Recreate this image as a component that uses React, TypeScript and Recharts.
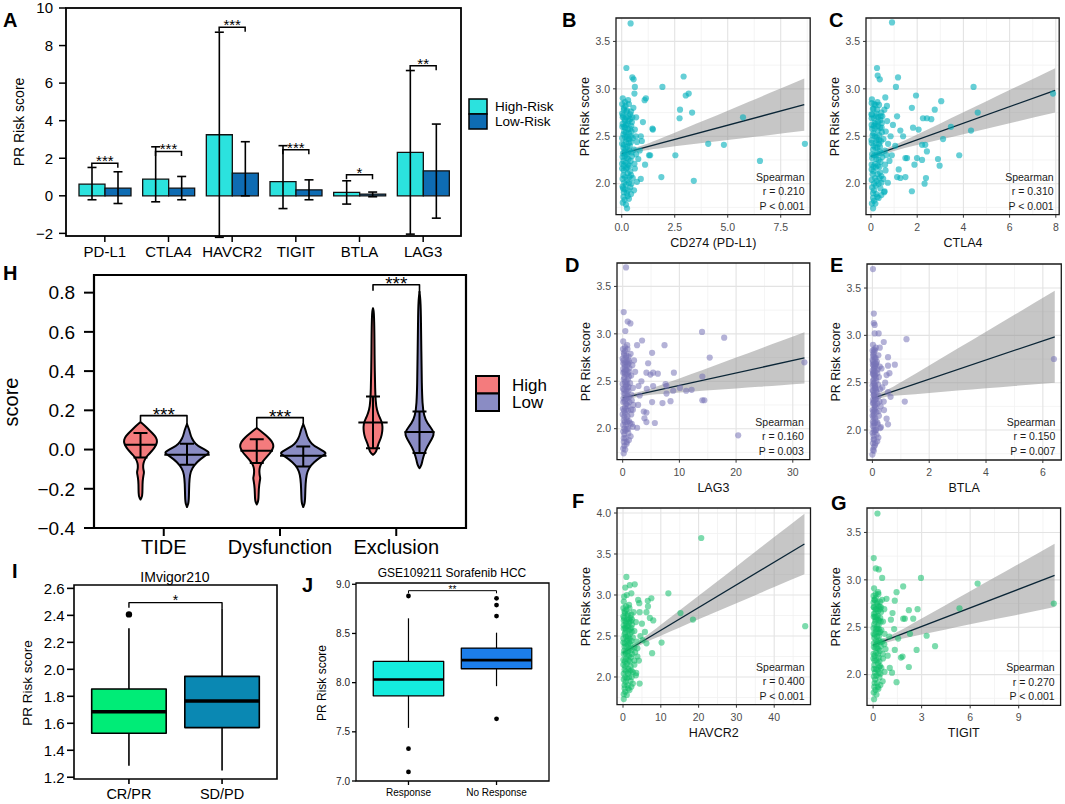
import React from 'react';
import {
  ComposedChart,
  Bar,
  XAxis,
  YAxis,
  ErrorBar,
  Scatter,
  Area,
  Line,
  CartesianGrid,
  ReferenceArea,
} from 'recharts';

const FONT = '"Liberation Sans", Arial, Helvetica, sans-serif';
const MINUS = '\u2212';
const signed = (digits: number) => (v: number) => (v < 0 ? MINUS : '') + Math.abs(v).toFixed(digits);

/* ---------------- Panel A : checkpoint expression ---------------- */
const checkpointGenes = ['PD-L1', 'CTLA4', 'HAVCR2', 'TIGIT', 'BTLA', 'LAG3'];
const highRiskMean = [0.62, 0.89, 3.25, 0.75, 0.18, 2.31];
const highRiskLower = [-0.21, -0.32, -2.21, -0.68, -0.44, -2.04];
const highRiskUpper = [1.51, 2.61, 8.71, 2.67, 0.8, 6.67];
const lowRiskMean = [0.41, 0.41, 1.21, 0.32, 0.09, 1.33];
const lowRiskLower = [-0.41, -0.21, 0.0, -0.21, -0.05, -1.19];
const lowRiskUpper = [1.28, 1.03, 2.88, 0.85, 0.2, 3.82];
const checkpointSigY = [1.74, 2.36, 8.98, 2.45, 1.12, 6.92];
const checkpointSig = ['***', '***', '***', '***', '*', '**'];
const aTicks = [-2, 0, 2, 4, 6, 8, 10];

/* ---------------- Panel H : TIDE violins ---------------- */
const tideGroups = ['TIDE', 'Dysfunction', 'Exclusion'];
const hTicks = [-0.4, -0.2, 0, 0.2, 0.4, 0.6, 0.8];
const tideHighProfile = [[-0.255, 0], [-0.24, 0.015], [-0.2, 0.017], [-0.16, 0.018], [-0.13, 0.026], [-0.115, 0.031], [-0.1, 0.024], [-0.08, 0.022], [-0.06, 0.03], [-0.04, 0.047], [-0.02, 0.078], [0.0, 0.108], [0.02, 0.132], [0.04, 0.144], [0.06, 0.136], [0.08, 0.11], [0.1, 0.074], [0.12, 0.04], [0.14, 0]];
const tideLowProfile = [[-0.293, 0], [-0.27, 0.015], [-0.2, 0.018], [-0.15, 0.021], [-0.11, 0.032], [-0.08, 0.062], [-0.05, 0.112], [-0.03, 0.162], [-0.015, 0.195], [0.0, 0.152], [0.02, 0.092], [0.04, 0.057], [0.07, 0.032], [0.1, 0.02], [0.13, 0]];
const dysHighProfile = [[-0.28, 0], [-0.26, 0.015], [-0.2, 0.017], [-0.16, 0.026], [-0.145, 0.031], [-0.13, 0.024], [-0.1, 0.022], [-0.08, 0.032], [-0.06, 0.052], [-0.04, 0.082], [-0.02, 0.112], [0.0, 0.136], [0.02, 0.145], [0.04, 0.132], [0.06, 0.102], [0.08, 0.064], [0.095, 0.034], [0.11, 0]];
const dysLowProfile = [[-0.293, 0], [-0.27, 0.015], [-0.2, 0.018], [-0.15, 0.023], [-0.11, 0.036], [-0.08, 0.066], [-0.05, 0.122], [-0.03, 0.172], [-0.018, 0.2], [0.0, 0.152], [0.02, 0.092], [0.04, 0.057], [0.07, 0.032], [0.1, 0.02], [0.13, 0]];
const exclHighProfile = [[-0.027, 0], [-0.015, 0.022], [0.0, 0.032], [0.03, 0.047], [0.06, 0.069], [0.09, 0.08], [0.117, 0.082], [0.14, 0.076], [0.16, 0.06], [0.185, 0.042], [0.22, 0.027], [0.28, 0.02], [0.35, 0.017], [0.45, 0.014], [0.6, 0.012], [0.7, 0.008], [0.72, 0]];
const exclLowProfile = [[-0.095, 0], [-0.08, 0.017], [-0.05, 0.027], [-0.02, 0.042], [0.01, 0.062], [0.04, 0.092], [0.065, 0.116], [0.083, 0.123], [0.1, 0.111], [0.12, 0.087], [0.15, 0.052], [0.2, 0.03], [0.28, 0.022], [0.4, 0.018], [0.6, 0.014], [0.75, 0.01], [0.805, 0]];
const hHighMean = [0.024, -0.006, 0.138];
const hHighLo = [-0.04, -0.069, 0.007];
const hHighHi = [0.084, 0.053, 0.27];
const hHighBar = [0.137, 0.14, 0.126];
const hLowMean = [-0.027, -0.032, 0.089];
const hLowLo = [-0.078, -0.086, -0.018];
const hLowHi = [0.03, 0.016, 0.194];
const hLowBar = [0.195, 0.2, 0.13];
const hSigY = [0.173, 0.163, 0.84];
const hSigLeft = [0.143, 0.11, 0.81];
const hSigRight = [0.13, 0.13, 0.8];

/* ---------------- Panel I : IMvigor210 ---------------- */
const imGroups = ['CR/PR', 'SD/PD'];
const imQ1 = [1.526, 1.568];
const imMed = [1.686, 1.765];
const imQ3 = [1.854, 1.948];
const imLo = [1.286, 1.25];
const imHi = [2.304, 2.452];
const imOutliers = [[1, 2.407]];
const imTicks = [1.2, 1.4, 1.6, 1.8, 2.0, 2.2, 2.4, 2.6];

/* ---------------- Panel J : GSE109211 ---------------- */
const gseGroups = ['Response', 'No Response'];
const gseQ1 = [7.866, 8.141];
const gseMed = [8.032, 8.229];
const gseQ3 = [8.216, 8.351];
const gseLo = [7.54, 7.964];
const gseHi = [8.654, 8.508];
const gseOutliers = [[1, 8.881], [1, 7.329], [1, 7.092], [2, 8.857], [2, 8.789], [2, 8.677], [2, 7.632]];
const gseTicks = [7.0, 7.5, 8.0, 8.5, 9.0];

/* ---------------- Panels B-G : correlation scatter ---------------- */
const ptsB = [[0.42, 3.69], [0.22, 3.22], [0.5, 3.12], [0.56, 3.1], [0.62, 3.02], [0.6, 2.95], [1.08, 2.88], [1.92, 3.02], [2.92, 3.13], [3.02, 2.93], [3.16, 2.95], [2.75, 2.78], [2.73, 2.69], [3.32, 2.75], [1.45, 2.58], [1.47, 2.57], [1.29, 2.3], [2.53, 2.3], [1.87, 2.07], [3.4, 2.03], [4.08, 2.42], [4.82, 2.41], [5.72, 2.7], [6.52, 2.24], [8.64, 2.42], [0.25, 1.74], [1.0, 2.65], [0.95, 2.45], [1.1, 2.2], [0.9, 2.05], [1.14, 2.9], [1.34, 2.3], [0.85, 2.35], [0.9, 2.5]];
const denseB = [[0.05, 2.9], [0.15, 2.86], [0.3, 2.88], [0.1, 2.8], [0.22, 2.76], [0.4, 2.73], [0.55, 2.8], [0.68, 2.7], [0.05, 2.7], [0.15, 2.66], [0.28, 2.63], [0.45, 2.61], [0.62, 2.57], [0.03, 2.6], [0.12, 2.55], [0.35, 2.53], [0.52, 2.48], [0.72, 2.44], [0.02, 2.48], [0.2, 2.44], [0.38, 2.4], [0.58, 2.36], [0.08, 2.38], [0.28, 2.33], [0.48, 2.29], [0.78, 2.26], [0.04, 2.28], [0.18, 2.22], [0.36, 2.19], [0.62, 2.16], [0.1, 2.14], [0.28, 2.11], [0.52, 2.06], [0.72, 2.02], [0.04, 2.05], [0.2, 1.99], [0.4, 1.96], [0.58, 1.93], [0.1, 1.91], [0.28, 1.87], [0.14, 1.83], [0.05, 1.8], [0.34, 2.01], [0.44, 2.09], [0.24, 2.47], [0.48, 2.65], [0.32, 2.71], [0.68, 2.31], [0.16, 2.59], [0.02, 2.74], [0.34, 2.43], [0.24, 2.27], [0.6, 2.21], [0.12, 2.01], [0.44, 1.89], [0.02, 2.16], [0.2, 2.54], [0.42, 2.5], [0.08, 2.24], [0.26, 2.17], [0.66, 2.5], [0.14, 2.34], [0.06, 1.95], [0.3, 1.93]];
const denseB2 = [[0.02, 2.84], [0.1, 2.78], [0.18, 2.82], [0.26, 2.77], [0.34, 2.84], [0.44, 2.76], [0.06, 2.72], [0.14, 2.68], [0.22, 2.7], [0.32, 2.66], [0.4, 2.68], [0.5, 2.7], [0.04, 2.63], [0.12, 2.6], [0.2, 2.62], [0.3, 2.57], [0.38, 2.58], [0.46, 2.55], [0.08, 2.52], [0.16, 2.49], [0.26, 2.5], [0.34, 2.47], [0.44, 2.44], [0.02, 2.42], [0.1, 2.41], [0.18, 2.37], [0.26, 2.39], [0.36, 2.35], [0.46, 2.33], [0.06, 2.32], [0.14, 2.29], [0.22, 2.31], [0.32, 2.26], [0.42, 2.24], [0.02, 2.21], [0.1, 2.19], [0.2, 2.16], [0.3, 2.2], [0.4, 2.13], [0.08, 2.09], [0.16, 2.07], [0.26, 2.04], [0.36, 2.07], [0.46, 2.0], [0.04, 1.97], [0.14, 1.94], [0.24, 1.9], [0.34, 1.84], [0.08, 1.86], [0.2, 1.78]];
const ptsC = [[0.91, 3.7], [0.26, 3.22], [0.29, 3.14], [0.38, 3.1], [1.17, 3.12], [1.08, 3.02], [1.95, 2.93], [1.77, 2.8], [3.04, 2.87], [2.76, 2.78], [4.44, 3.02], [4.62, 2.75], [7.88, 2.95], [2.25, 2.69], [2.42, 2.69], [2.61, 2.68], [3.46, 2.6], [4.33, 2.56], [1.82, 2.59], [2.06, 2.57], [3.12, 2.47], [2.21, 2.41], [2.35, 2.41], [2.42, 2.34], [3.82, 2.3], [2.9, 2.26], [2.97, 2.19], [1.99, 2.27], [2.21, 2.25], [1.49, 2.27], [1.56, 2.27], [1.88, 2.2], [2.38, 2.06], [2.32, 2.0], [1.49, 2.07], [1.27, 2.06], [1.13, 2.07], [1.77, 1.92], [0.59, 1.92], [0.09, 1.74], [1.27, 2.56], [1.39, 2.5], [0.62, 2.91], [0.69, 2.82], [1.13, 2.71], [0.95, 2.62], [1.05, 2.4], [0.9, 2.3], [1.2, 2.15], [0.85, 2.5]];
const denseC = [[0.04, 2.89], [0.14, 2.84], [0.28, 2.86], [0.08, 2.79], [0.24, 2.74], [0.42, 2.71], [0.58, 2.78], [0.7, 2.66], [0.03, 2.69], [0.16, 2.64], [0.3, 2.61], [0.46, 2.59], [0.64, 2.55], [0.05, 2.58], [0.11, 2.53], [0.36, 2.51], [0.54, 2.47], [0.74, 2.42], [0.02, 2.46], [0.21, 2.43], [0.39, 2.39], [0.6, 2.35], [0.09, 2.36], [0.27, 2.32], [0.49, 2.28], [0.8, 2.24], [0.05, 2.27], [0.17, 2.21], [0.37, 2.18], [0.63, 2.14], [0.11, 2.13], [0.29, 2.1], [0.53, 2.05], [0.73, 2.01], [0.03, 2.04], [0.21, 1.98], [0.41, 1.95], [0.57, 1.91], [0.09, 1.9], [0.27, 1.86], [0.13, 1.82], [0.04, 1.79], [0.33, 2.0], [0.45, 2.08], [0.25, 2.46], [0.47, 2.64], [0.31, 2.7], [0.67, 2.3], [0.15, 2.58], [0.02, 2.73], [0.35, 2.42], [0.23, 2.26], [0.61, 2.2], [0.13, 2.0], [0.45, 1.88], [0.03, 2.15]];
const denseC2 = [[0.03, 2.85], [0.11, 2.79], [0.19, 2.83], [0.27, 2.78], [0.35, 2.83], [0.45, 2.75], [0.05, 2.73], [0.13, 2.69], [0.23, 2.71], [0.31, 2.65], [0.41, 2.67], [0.49, 2.71], [0.03, 2.62], [0.13, 2.61], [0.21, 2.63], [0.29, 2.56], [0.39, 2.59], [0.47, 2.54], [0.07, 2.51], [0.17, 2.5], [0.25, 2.49], [0.35, 2.46], [0.43, 2.45], [0.03, 2.43], [0.11, 2.4], [0.19, 2.38], [0.27, 2.38], [0.37, 2.34], [0.45, 2.32], [0.05, 2.31], [0.15, 2.3], [0.23, 2.3], [0.33, 2.25], [0.41, 2.23], [0.03, 2.2], [0.11, 2.18], [0.21, 2.17], [0.29, 2.19], [0.39, 2.12], [0.07, 2.1], [0.17, 2.06], [0.25, 2.03], [0.37, 2.06], [0.45, 2.01], [0.05, 1.96], [0.13, 1.93], [0.23, 1.89], [0.33, 1.85], [0.09, 1.85], [0.19, 1.79]];
const ptsD = [[0.59, 3.7], [0.18, 3.23], [0.89, 3.13], [1.36, 3.11], [0.47, 3.03], [2.54, 2.88], [3.42, 2.93], [5.19, 2.8], [7.38, 2.88], [14.0, 3.02], [17.9, 2.96], [15.35, 2.75], [32.05, 2.7], [4.49, 2.69], [4.19, 2.59], [4.9, 2.57], [5.37, 2.59], [6.2, 2.58], [9.03, 2.59], [7.56, 2.47], [7.73, 2.45], [5.37, 2.45], [4.25, 2.42], [14.05, 2.55], [8.91, 2.4], [10.1, 2.43], [11.2, 2.4], [12.16, 2.41], [7.73, 2.37], [14.05, 2.3], [14.4, 2.3], [7.02, 2.27], [8.44, 2.29], [5.19, 2.28], [3.72, 2.18], [4.19, 2.17], [3.84, 2.11], [4.19, 2.07], [5.67, 2.06], [2.54, 2.01], [2.72, 2.25], [20.37, 1.93], [0.18, 1.74], [2.2, 2.6], [2.8, 2.45], [1.8, 2.2], [3.0, 2.35], [2.0, 2.72], [1.6, 2.05], [3.3, 2.5]];
const denseD = [[0.1, 2.92], [0.4, 2.86], [0.8, 2.88], [0.2, 2.8], [0.6, 2.75], [1.0, 2.72], [1.4, 2.79], [1.7, 2.67], [0.1, 2.69], [0.4, 2.65], [0.7, 2.62], [1.1, 2.6], [1.5, 2.56], [0.1, 2.59], [0.3, 2.54], [0.9, 2.52], [1.3, 2.48], [1.8, 2.43], [0.0, 2.47], [0.5, 2.44], [1.0, 2.4], [1.5, 2.36], [0.2, 2.37], [0.7, 2.32], [1.2, 2.28], [1.9, 2.25], [0.1, 2.28], [0.4, 2.22], [0.9, 2.19], [1.5, 2.15], [0.3, 2.13], [0.7, 2.1], [1.3, 2.06], [1.8, 2.02], [0.1, 2.04], [0.5, 1.98], [1.0, 1.95], [1.4, 1.92], [0.2, 1.9], [0.7, 1.86], [0.3, 1.82], [0.1, 1.79], [0.8, 2.0], [1.1, 2.08], [0.6, 2.46], [1.2, 2.64], [0.8, 2.7], [1.6, 2.3], [0.4, 2.58], [0.0, 2.74], [0.8, 2.42], [0.6, 2.26], [1.5, 2.2], [0.3, 2.0], [1.1, 1.88], [0.0, 2.15]];
const denseD2 = [[0.05, 2.84], [0.25, 2.78], [0.45, 2.82], [0.65, 2.77], [0.85, 2.84], [1.05, 2.76], [0.15, 2.72], [0.35, 2.68], [0.55, 2.7], [0.75, 2.66], [0.95, 2.68], [1.15, 2.7], [0.1, 2.63], [0.3, 2.6], [0.5, 2.62], [0.7, 2.57], [0.9, 2.58], [1.1, 2.55], [0.2, 2.52], [0.4, 2.49], [0.6, 2.5], [0.8, 2.47], [1.0, 2.44], [0.05, 2.42], [0.25, 2.41], [0.45, 2.37], [0.65, 2.39], [0.85, 2.35], [1.05, 2.33], [0.15, 2.32], [0.35, 2.29], [0.55, 2.31], [0.75, 2.26], [0.95, 2.24], [0.05, 2.21], [0.25, 2.19], [0.45, 2.16], [0.65, 2.2], [0.85, 2.13], [0.2, 2.09], [0.4, 2.07], [0.6, 2.04], [0.8, 2.07], [1.0, 2.0], [0.1, 1.97], [0.3, 1.94], [0.5, 1.9], [0.7, 1.84], [0.2, 1.86], [0.45, 1.78]];
const ptsE = [[0.02, 3.7], [0.05, 3.23], [0.05, 3.13], [0.08, 3.11], [0.08, 3.02], [0.22, 3.02], [0.4, 2.93], [0.26, 2.87], [1.2, 2.96], [0.55, 2.77], [0.79, 2.69], [0.55, 2.68], [0.5, 2.58], [0.6, 2.6], [1.14, 2.3], [6.39, 2.75], [0.64, 2.35], [0.55, 2.4], [0.41, 2.21], [0.55, 2.06], [0.3, 2.03], [0.0, 1.74], [0.45, 2.5], [0.35, 2.45], [0.4, 2.3], [0.32, 2.65], [0.5, 2.12]];
const denseE = [[0.02, 2.9], [0.06, 2.85], [0.12, 2.87], [0.03, 2.8], [0.09, 2.75], [0.16, 2.72], [0.21, 2.79], [0.26, 2.67], [0.02, 2.69], [0.06, 2.65], [0.11, 2.62], [0.17, 2.6], [0.23, 2.56], [0.02, 2.59], [0.05, 2.54], [0.14, 2.52], [0.2, 2.48], [0.27, 2.43], [0.01, 2.47], [0.08, 2.44], [0.15, 2.4], [0.22, 2.36], [0.04, 2.37], [0.11, 2.32], [0.18, 2.28], [0.29, 2.25], [0.02, 2.28], [0.07, 2.22], [0.14, 2.19], [0.23, 2.15], [0.04, 2.13], [0.11, 2.1], [0.19, 2.06], [0.27, 2.02], [0.02, 2.04], [0.08, 1.98], [0.15, 1.95], [0.21, 1.92], [0.04, 1.9], [0.11, 1.86], [0.05, 1.82], [0.02, 1.79], [0.12, 2.0], [0.17, 2.08], [0.09, 2.46], [0.18, 2.64], [0.12, 2.7], [0.25, 2.3], [0.06, 2.58], [0.01, 2.74], [0.13, 2.42], [0.09, 2.26], [0.22, 2.2], [0.05, 2.0], [0.17, 1.88], [0.01, 2.15]];
const denseE2 = [[0.01, 2.84], [0.03, 2.78], [0.05, 2.82], [0.07, 2.77], [0.09, 2.84], [0.12, 2.76], [0.02, 2.72], [0.04, 2.68], [0.06, 2.7], [0.08, 2.66], [0.1, 2.68], [0.13, 2.7], [0.01, 2.63], [0.03, 2.6], [0.05, 2.62], [0.08, 2.57], [0.1, 2.58], [0.12, 2.55], [0.02, 2.52], [0.04, 2.49], [0.07, 2.5], [0.09, 2.47], [0.11, 2.44], [0.01, 2.42], [0.03, 2.41], [0.05, 2.37], [0.07, 2.39], [0.09, 2.35], [0.12, 2.33], [0.02, 2.32], [0.04, 2.29], [0.06, 2.31], [0.08, 2.26], [0.11, 2.24], [0.01, 2.21], [0.03, 2.19], [0.05, 2.16], [0.08, 2.2], [0.1, 2.13], [0.02, 2.09], [0.04, 2.07], [0.07, 2.04], [0.09, 2.07], [0.12, 2.0], [0.01, 1.97], [0.04, 1.94], [0.06, 1.9], [0.09, 1.84], [0.02, 1.86], [0.05, 1.78]];
const ptsF = [[20.7, 3.695], [0.9, 3.22], [0.6, 3.09], [1.8, 3.12], [3.1, 3.13], [2.2, 3.02], [12.0, 3.02], [4.0, 2.94], [6.55, 2.93], [7.5, 2.96], [4.3, 2.9], [6.6, 2.86], [6.2, 2.79], [4.4, 2.79], [7.1, 2.72], [8.0, 2.69], [15.2, 2.78], [18.5, 2.7], [48.2, 2.62], [5.8, 2.55], [10.2, 2.42], [6.2, 2.41], [7.7, 2.29], [4.4, 1.92], [0.2, 1.73], [5.0, 2.65], [4.6, 2.5], [3.8, 2.35], [4.2, 2.2], [3.5, 2.05], [5.2, 2.45]];
const denseF = [[0.2, 2.92], [0.8, 2.86], [1.6, 2.88], [0.4, 2.8], [1.2, 2.75], [2.0, 2.72], [2.8, 2.79], [3.4, 2.67], [0.2, 2.69], [0.8, 2.65], [1.4, 2.62], [2.2, 2.6], [3.0, 2.56], [0.2, 2.59], [0.6, 2.54], [1.8, 2.52], [2.6, 2.48], [3.6, 2.43], [0.1, 2.47], [1.0, 2.44], [2.0, 2.4], [3.0, 2.36], [0.4, 2.37], [1.4, 2.32], [2.4, 2.28], [3.8, 2.25], [0.2, 2.28], [0.8, 2.22], [1.8, 2.19], [3.0, 2.15], [0.6, 2.13], [1.4, 2.1], [2.6, 2.06], [3.4, 2.02], [0.2, 2.04], [1.0, 1.98], [2.0, 1.95], [2.6, 1.92], [0.4, 1.9], [1.4, 1.86], [0.6, 1.82], [0.2, 1.79], [1.6, 2.0], [2.2, 2.08], [1.2, 2.46], [2.4, 2.64], [1.6, 2.7], [3.2, 2.3], [0.8, 2.58], [0.1, 2.74], [1.6, 2.42], [1.2, 2.26], [3.0, 2.2], [0.6, 2.0], [2.2, 1.88], [0.1, 2.15], [0.3, 2.98], [1.0, 3.0]];
const denseF2 = [[0.1, 2.84], [0.5, 2.78], [0.9, 2.82], [1.3, 2.77], [1.7, 2.84], [2.2, 2.76], [0.3, 2.72], [0.7, 2.68], [1.1, 2.7], [1.6, 2.66], [2.0, 2.68], [2.4, 2.7], [0.2, 2.63], [0.6, 2.6], [1.0, 2.62], [1.5, 2.57], [1.9, 2.58], [2.3, 2.55], [0.4, 2.52], [0.8, 2.49], [1.3, 2.5], [1.7, 2.47], [2.2, 2.44], [0.1, 2.42], [0.5, 2.41], [0.9, 2.37], [1.3, 2.39], [1.8, 2.35], [2.3, 2.33], [0.3, 2.32], [0.7, 2.29], [1.1, 2.31], [1.6, 2.26], [2.1, 2.24], [0.1, 2.21], [0.5, 2.19], [1.0, 2.16], [1.5, 2.2], [2.0, 2.13], [0.4, 2.09], [0.8, 2.07], [1.3, 2.04], [1.8, 2.07], [2.3, 2.0], [0.2, 1.97], [0.7, 1.94], [1.2, 1.9], [1.7, 1.84], [0.4, 1.86], [1.0, 1.78]];
const ptsG = [[0.27, 3.7], [0.04, 3.23], [0.17, 3.12], [0.35, 3.11], [0.56, 3.02], [2.96, 3.02], [1.86, 2.93], [1.45, 2.87], [6.46, 2.96], [0.83, 2.8], [1.34, 2.78], [2.21, 2.68], [2.75, 2.69], [1.86, 2.59], [1.96, 2.59], [2.48, 2.59], [5.34, 2.7], [1.1, 2.58], [1.3, 2.48], [2.28, 2.43], [3.31, 2.41], [1.55, 2.38], [3.83, 2.3], [2.69, 2.26], [1.34, 2.26], [1.82, 2.19], [1.72, 2.18], [2.21, 2.08], [1.03, 2.07], [1.17, 2.02], [1.45, 1.92], [11.17, 2.75], [0.06, 1.74], [1.0, 2.4], [0.9, 2.2], [1.2, 2.65]];
const denseG = [[0.06, 2.91], [0.16, 2.85], [0.31, 2.87], [0.09, 2.79], [0.23, 2.75], [0.41, 2.72], [0.56, 2.79], [0.69, 2.69], [0.04, 2.71], [0.14, 2.65], [0.29, 2.62], [0.44, 2.6], [0.61, 2.56], [0.04, 2.61], [0.13, 2.56], [0.34, 2.52], [0.51, 2.47], [0.71, 2.43], [0.03, 2.49], [0.19, 2.45], [0.37, 2.41], [0.57, 2.35], [0.07, 2.39], [0.27, 2.34], [0.47, 2.3], [0.77, 2.27], [0.05, 2.29], [0.19, 2.23], [0.35, 2.18], [0.61, 2.17], [0.09, 2.15], [0.29, 2.12], [0.51, 2.07], [0.71, 2.03], [0.05, 2.06], [0.21, 1.99], [0.39, 1.97], [0.59, 1.93], [0.09, 1.91], [0.29, 1.87], [0.15, 1.84], [0.04, 1.81], [0.35, 2.02], [0.43, 2.09], [0.25, 2.48], [0.49, 2.66], [0.33, 2.72], [0.69, 2.32], [0.17, 2.58], [0.03, 2.76], [0.35, 2.44], [0.25, 2.28], [0.59, 2.22], [0.11, 2.02], [0.45, 1.89], [0.02, 2.17]];
const denseG2 = [[0.03, 2.83], [0.09, 2.79], [0.17, 2.81], [0.27, 2.76], [0.33, 2.85], [0.43, 2.77], [0.05, 2.71], [0.15, 2.69], [0.21, 2.69], [0.31, 2.67], [0.41, 2.69], [0.49, 2.71], [0.05, 2.64], [0.11, 2.61], [0.21, 2.61], [0.29, 2.58], [0.37, 2.57], [0.47, 2.56], [0.07, 2.53], [0.17, 2.48], [0.25, 2.51], [0.35, 2.48], [0.43, 2.45], [0.03, 2.43], [0.09, 2.42], [0.19, 2.36], [0.25, 2.4], [0.37, 2.36], [0.45, 2.34], [0.05, 2.33], [0.15, 2.28], [0.21, 2.32], [0.33, 2.27], [0.41, 2.25], [0.03, 2.22], [0.09, 2.2], [0.21, 2.15], [0.29, 2.21], [0.39, 2.14], [0.07, 2.1], [0.17, 2.06], [0.25, 2.05], [0.37, 2.08], [0.45, 2.01], [0.05, 1.98], [0.13, 1.95], [0.25, 1.91], [0.33, 1.85], [0.07, 1.87], [0.21, 1.79]];

// regression fit end points and 95% band (x, lower, upper)
const fitB = [[0, 2.316], [8.61, 2.833]];
const bandB = [[0, 2.286, 2.346], [1, 2.346, 2.406], [2, 2.379, 2.493], [3, 2.407, 2.585], [4, 2.435, 2.677], [5, 2.461, 2.77], [6, 2.488, 2.864], [7, 2.514, 2.958], [8.61, 2.557, 3.109]];
const fitC = [[0, 2.288], [7.97, 2.984]];
const bandC = [[0, 2.264, 2.312], [1, 2.345, 2.406], [2, 2.407, 2.519], [3, 2.465, 2.635], [4, 2.522, 2.752], [5, 2.58, 2.87], [6, 2.637, 2.987], [7.97, 2.75, 3.218]];
const fitD = [[0, 2.324], [32.06, 2.746]];
const bandD = [[0, 2.297, 2.351], [4, 2.35, 2.404], [8, 2.372, 2.486], [12, 2.39, 2.574], [16, 2.408, 2.662], [20, 2.424, 2.75], [24, 2.442, 2.838], [28, 2.458, 2.926], [32.06, 2.476, 3.016]];
const fitE = [[0, 2.335], [6.42, 2.985]];
const bandE = [[0, 2.31, 2.36], [0.5, 2.351, 2.421], [1, 2.367, 2.505], [2, 2.392, 2.682], [3, 2.417, 2.861], [4, 2.441, 3.039], [5, 2.465, 3.217], [6.42, 2.499, 3.471]];
const fitF = [[0, 2.293], [48, 3.622]];
const bandF = [[0, 2.261, 2.325], [5, 2.399, 2.463], [10, 2.504, 2.636], [15, 2.604, 2.813], [20, 2.703, 2.991], [25, 2.801, 3.169], [30, 2.899, 3.349], [35, 2.997, 3.527], [40, 3.096, 3.706], [48, 3.252, 3.992]];
const fitG = [[0, 2.31], [11.22, 3.047]];
const bandG = [[0, 2.284, 2.336], [1, 2.346, 2.406], [2, 2.387, 2.495], [3, 2.423, 2.591], [4.5, 2.477, 2.735], [6, 2.53, 2.879], [7.5, 2.583, 3.024], [9, 2.634, 3.168], [11.22, 2.712, 3.382]];

/* ---------------- helpers ---------------- */
const NoDot = () => <g />;

function Outline(props: any) {
  const { points, areaFill, edge, edgeWidth, closed, smooth, pairs } = props;
  if (!points || points.length < 2) return null;
  let d = '';
  if (pairs) {
    for (let i = 0; i + 1 < points.length; i += 2) {
      d += `M${points[i].x},${points[i].y}L${points[i + 1].x},${points[i + 1].y}`;
    }
  } else if (smooth && closed) {
    const n = points.length;
    const mid = (a: any, b: any) => ({ x: (a.x + b.x) / 2, y: (a.y + b.y) / 2 });
    const m0 = mid(points[n - 1], points[0]);
    d = `M${m0.x},${m0.y}`;
    for (let i = 0; i < n; i++) {
      const p = points[i];
      const m = mid(p, points[(i + 1) % n]);
      d += `Q${p.x},${p.y} ${m.x},${m.y}`;
    }
    d += 'Z';
  } else {
    d = points.map((p: any, i: number) => `${i ? 'L' : 'M'}${p.x},${p.y}`).join('') + (closed ? 'Z' : '');
  }
  return (
    <path d={d} fill={areaFill || 'none'} stroke={edge || 'none'} strokeWidth={edgeWidth || 1} strokeLinejoin="round" />
  );
}

const makeDot = (r: number, fill: string, op: number) => (p: any) =>
  p.cx == null ? <g /> : <circle cx={p.cx} cy={p.cy} r={r} fill={fill} fillOpacity={op} />;

const makeStar = (fontSize: number, dy: number) => (p: any) =>
  p.cx == null ? (
    <g />
  ) : (
    <text x={p.cx} y={p.cy + dy} textAnchor="middle" fontSize={fontSize} fontFamily={FONT} fill="#000">
      {p.payload.t}
    </text>
  );

/* ---------------- Panel A ---------------- */
const dataA = checkpointGenes.map((g, i) => ({
  gene: g,
  high: highRiskMean[i],
  low: lowRiskMean[i],
  highErr: [highRiskMean[i] - highRiskLower[i], highRiskUpper[i] - highRiskMean[i]],
  lowErr: [lowRiskMean[i] - lowRiskLower[i], lowRiskUpper[i] - lowRiskMean[i]],
  sig: checkpointSigY[i],
  t: checkpointSig[i],
}));

const SigBracketA = (p: any) => {
  if (p.cx == null || p.cy == null) return <g />;
  const { cx, cy } = p;
  return (
    <g>
      <path d={`M${cx - 13},${cy + 4.5}V${cy}H${cx + 13}V${cy + 4.5}`} fill="none" stroke="#000" strokeWidth={1.5} />
      <text x={cx} y={cy + 3} textAnchor="middle" fontSize={15} fontFamily={FONT} fill="#000">
        {p.payload.t}
      </text>
    </g>
  );
};

function PanelA() {
  const fr = { x1: 66, y1: 8, x2: 461, y2: 236 };
  const xh = 30;
  const w = fr.x2 + 4;
  const h = fr.y2 + xh;
  const tickStyle = { fontSize: 15, fill: '#000', fontFamily: FONT };
  return (
    <div style={{ position: 'absolute', left: 0, top: 0, width: w, height: h }}>
      <ComposedChart width={w} height={h} data={dataA} margin={{ top: fr.y1, right: 4, bottom: 0, left: 0 }} barGap={0}>
        <XAxis
          dataKey="gene"
          height={xh}
          padding={{ left: 7, right: 6 }}
          axisLine={false}
          tickSize={6}
          tickMargin={4.5}
          tickLine={{ stroke: '#000', strokeWidth: 1.5 }}
          tick={tickStyle}
          interval={0}
        />
        <YAxis
          type="number"
          domain={[-2.14, 10]}
          ticks={aTicks}
          allowDataOverflow
          interval={0}
          width={fr.x1}
          axisLine={false}
          tickSize={7}
          tickMargin={6}
          tickLine={{ stroke: '#000', strokeWidth: 1.5 }}
          tick={tickStyle}
          tickFormatter={signed(0)}
        />
        <Bar dataKey="high" barSize={26} fill="#2BE2DE" stroke="#111" strokeWidth={1.3} isAnimationActive={false}>
          <ErrorBar dataKey="highErr" width={4.5} stroke="#000" strokeWidth={1.6} direction="y" />
        </Bar>
        <Bar dataKey="low" barSize={26} fill="#0E6CB3" stroke="#111" strokeWidth={1.3} isAnimationActive={false}>
          <ErrorBar dataKey="lowErr" width={4.5} stroke="#000" strokeWidth={1.6} direction="y" />
        </Bar>
        <Scatter dataKey="sig" shape={SigBracketA} isAnimationActive={false} />
      </ComposedChart>
    </div>
  );
}

/* ---------------- Panel H ---------------- */
const HIGH_RED = '#F47B7D';
const LOW_BLUE = '#8A8CC4';
const DODGE = 0.2;
const CAP = 0.06;
const violinSet = [
  { group: 0, side: -1, profile: tideHighProfile, fill: HIGH_RED, mean: hHighMean[0], lo: hHighLo[0], hi: hHighHi[0], bar: hHighBar[0] },
  { group: 0, side: 1, profile: tideLowProfile, fill: LOW_BLUE, mean: hLowMean[0], lo: hLowLo[0], hi: hLowHi[0], bar: hLowBar[0] },
  { group: 1, side: -1, profile: dysHighProfile, fill: HIGH_RED, mean: hHighMean[1], lo: hHighLo[1], hi: hHighHi[1], bar: hHighBar[1] },
  { group: 1, side: 1, profile: dysLowProfile, fill: LOW_BLUE, mean: hLowMean[1], lo: hLowLo[1], hi: hLowHi[1], bar: hLowBar[1] },
  { group: 2, side: -1, profile: exclHighProfile, fill: HIGH_RED, mean: hHighMean[2], lo: hHighLo[2], hi: hHighHi[2], bar: hHighBar[2] },
  { group: 2, side: 1, profile: exclLowProfile, fill: LOW_BLUE, mean: hLowMean[2], lo: hLowLo[2], hi: hLowHi[2], bar: hLowBar[2] },
];
const violinOutline = (center: number, profile: number[][]) => [
  ...profile.map(([y, hw]) => ({ x: center + hw, y })),
  ...profile.slice().reverse().map(([y, hw]) => ({ x: center - hw, y })),
];
const crossbarSegments = (v: any) => {
  const x = v.group + 1 + v.side * DODGE;
  return [
    { x, y: v.lo }, { x, y: v.hi },
    { x: x - v.bar, y: v.mean }, { x: x + v.bar, y: v.mean },
    { x: x - CAP, y: v.lo }, { x: x + CAP, y: v.lo },
    { x: x - CAP, y: v.hi }, { x: x + CAP, y: v.hi },
  ];
};
const hBrackets = tideGroups.map((_, i) => [
  { x: i + 1 - DODGE, y: hSigLeft[i] },
  { x: i + 1 - DODGE, y: hSigY[i] },
  { x: i + 1 + DODGE, y: hSigY[i] },
  { x: i + 1 + DODGE, y: hSigRight[i] },
]);
const hStars = tideGroups.map((_, i) => ({ x: i + 1, y: hSigY[i], t: '***' }));
const StarH = makeStar(19, 5.5);

function PanelH() {
  const fr = { x1: 94, y1: 275, x2: 466, y2: 528 };
  const top = 265;
  const xh = 40;
  const w = fr.x2 + 4;
  const h = fr.y2 - top + xh;
  return (
    <div style={{ position: 'absolute', left: 0, top, width: w, height: h }}>
      <ComposedChart width={w} height={h} margin={{ top: fr.y1 - top, right: 4, bottom: 0, left: 0 }}>
        <XAxis
          type="number"
          dataKey="x"
          domain={[0.4, 3.6]}
          ticks={[1, 2, 3]}
          allowDataOverflow
          interval={0}
          height={xh}
          axisLine={false}
          tickSize={8}
          tickMargin={3.5}
          tickLine={{ stroke: '#000', strokeWidth: 2 }}
          tick={{ fontSize: 20, fill: '#000', fontFamily: FONT }}
          tickFormatter={(v: number) => tideGroups[v - 1]}
        />
        <YAxis
          type="number"
          domain={[-0.4, 0.89]}
          ticks={hTicks}
          allowDataOverflow
          interval={0}
          width={fr.x1}
          axisLine={false}
          tickSize={10}
          tickMargin={9}
          tickLine={{ stroke: '#000', strokeWidth: 2 }}
          tick={{ fontSize: 19, fill: '#000', fontFamily: FONT }}
          tickFormatter={signed(1)}
        />
        {violinSet.map((v, k) => (
          <Scatter
            key={'v' + k}
            data={violinOutline(v.group + 1 + v.side * DODGE, v.profile)}
            dataKey="y"
            shape={NoDot}
            line={<Outline areaFill={v.fill} edge="#000" edgeWidth={2} closed smooth />}
            isAnimationActive={false}
          />
        ))}
        {violinSet.map((v, k) => (
          <Scatter
            key={'c' + k}
            data={crossbarSegments(v)}
            dataKey="y"
            shape={NoDot}
            line={<Outline edge="#000" edgeWidth={2} pairs />}
            isAnimationActive={false}
          />
        ))}
        {hBrackets.map((b, k) => (
          <Scatter
            key={'b' + k}
            data={b}
            dataKey="y"
            shape={NoDot}
            line={<Outline edge="#000" edgeWidth={1.6} />}
            isAnimationActive={false}
          />
        ))}
        <Scatter data={hStars} dataKey="y" shape={StarH} isAnimationActive={false} />
        <ReferenceArea x1={0.4} x2={3.6} y1={-0.4} y2={0.89} fill="none" stroke="#000" strokeWidth={2.2} />
      </ComposedChart>
    </div>
  );
}

/* ---------------- Panels I & J (box plots) ---------------- */
const BOX_HALF = 0.4;
function buildBoxCfg(q1: number[], med: number[], q3: number[], lo: number[], hi: number[]) {
  return q1.map((_, i) => {
    const x = i + 1;
    return {
      whisker: [
        { x, y: lo[i] },
        { x, y: hi[i] },
      ],
      box: [
        { x: x - BOX_HALF, y: q1[i] },
        { x: x + BOX_HALF, y: q1[i] },
        { x: x + BOX_HALF, y: q3[i] },
        { x: x - BOX_HALF, y: q3[i] },
      ],
      median: [
        { x: x - BOX_HALF, y: med[i] },
        { x: x + BOX_HALF, y: med[i] },
      ],
    };
  });
}

function BoxPanel({ c }: { c: any }) {
  const [x1, y1, x2, y2] = c.frame;
  const mt = 10;
  const w = x2 - x1 + c.yw + 3;
  const h = y2 - y1 + mt + c.xh;
  const boxes = buildBoxCfg(c.q1, c.med, c.q3, c.lo, c.hi);
  const bracket = [
    { x: 1, y: c.sig[1] },
    { x: 1, y: c.sig[0] },
    { x: 2, y: c.sig[0] },
    { x: 2, y: c.sig[2] },
  ];
  const star = [{ x: 1.5, y: c.sig[0], t: c.sigText }];
  const outliers = c.outliers.map(([x, y]: number[]) => ({ x, y }));
  return (
    <div style={{ position: 'absolute', left: x1 - c.yw, top: y1 - mt, width: w, height: h }}>
      <ComposedChart width={w} height={h} margin={{ top: mt, right: 3, bottom: 0, left: 0 }}>
        <XAxis
          type="number"
          dataKey="x"
          domain={c.xDomain}
          ticks={[1, 2]}
          allowDataOverflow
          interval={0}
          height={c.xh}
          axisLine={false}
          tickSize={c.xTickSize}
          tickMargin={c.xTickMargin}
          tickLine={{ stroke: '#000', strokeWidth: c.frameW }}
          tick={{ fontSize: c.xFont, fill: '#000', fontFamily: FONT }}
          tickFormatter={(v: number) => c.groups[v - 1]}
        />
        <YAxis
          type="number"
          domain={c.yDomain}
          ticks={c.yTicks}
          allowDataOverflow
          interval={0}
          width={c.yw}
          axisLine={false}
          tickSize={c.yTickSize}
          tickMargin={c.yTickMargin}
          tickLine={{ stroke: '#000', strokeWidth: c.frameW }}
          tick={{ fontSize: c.yFont, fill: c.tickFill, fontFamily: FONT }}
          tickFormatter={(v: number) => v.toFixed(1)}
        />
        {boxes.map((b, k) => (
          <Scatter key={'w' + k} data={b.whisker} dataKey="y" shape={NoDot} line={<Outline edge="#000" edgeWidth={c.whiskerW} />} isAnimationActive={false} />
        ))}
        {boxes.map((b, k) => (
          <Scatter key={'b' + k} data={b.box} dataKey="y" shape={NoDot} line={<Outline areaFill={c.colors[k]} edge="#000" edgeWidth={c.boxW} closed />} isAnimationActive={false} />
        ))}
        {boxes.map((b, k) => (
          <Scatter key={'m' + k} data={b.median} dataKey="y" shape={NoDot} line={<Outline edge="#000" edgeWidth={c.medianW} />} isAnimationActive={false} />
        ))}
        <Scatter data={outliers} dataKey="y" shape={makeDot(c.outR, '#000', 1)} isAnimationActive={false} />
        <Scatter data={bracket} dataKey="y" shape={NoDot} line={<Outline edge="#000" edgeWidth={c.bracketW} />} isAnimationActive={false} />
        <Scatter data={star} dataKey="y" shape={makeStar(c.starFont, c.starDy)} isAnimationActive={false} />
        <ReferenceArea x1={c.xDomain[0]} x2={c.xDomain[1]} y1={c.yDomain[0]} y2={c.yDomain[1]} fill="none" stroke="#000" strokeWidth={c.frameW} />
      </ComposedChart>
    </div>
  );
}

const panelI = {
  frame: [74, 585, 277, 779],
  yw: 60,
  xh: 26,
  xDomain: [0.41, 2.59],
  yDomain: [1.187, 2.625],
  yTicks: imTicks,
  groups: imGroups,
  q1: imQ1,
  med: imMed,
  q3: imQ3,
  lo: imLo,
  hi: imHi,
  outliers: imOutliers,
  colors: ['#00EC77', '#0A88B3'],
  sig: [2.494, 2.457, 2.452],
  sigText: '*',
  xFont: 14.5,
  yFont: 15,
  tickFill: '#000',
  xTickSize: 5,
  xTickMargin: 5,
  yTickSize: 7,
  yTickMargin: 2.3,
  frameW: 1.6,
  boxW: 1.6,
  medianW: 3.4,
  whiskerW: 1.6,
  bracketW: 1.4,
  outR: 3.2,
  starFont: 14,
  starDy: 2.5,
};

const panelJ = {
  frame: [356, 583, 549, 781],
  yw: 50,
  xh: 22,
  xDomain: [0.404, 2.596],
  yDomain: [7.0, 9.013],
  yTicks: gseTicks,
  groups: gseGroups,
  q1: gseQ1,
  med: gseMed,
  q3: gseQ3,
  lo: gseLo,
  hi: gseHi,
  outliers: gseOutliers,
  colors: ['#14ECDE', '#1C7EEB'],
  sig: [8.935, 8.908, 8.908],
  sigText: '**',
  xFont: 10,
  yFont: 10,
  tickFill: '#222',
  xTickSize: 4,
  xTickMargin: 3.4,
  yTickSize: 4,
  yTickMargin: 2,
  frameW: 1.3,
  boxW: 1.3,
  medianW: 2.7,
  whiskerW: 1.2,
  bracketW: 1,
  outR: 2.4,
  starFont: 10,
  starDy: 2,
};

/* ---------------- Correlation panels ---------------- */
const TEAL = '#00AFBB';
const PURPLE = '#7672B6';
const GREEN = '#10BD6A';
const toPts = (a: number[][]) => a.map(([x, y]) => ({ x, y }));
const toFit = (a: number[][]) => a.map(([x, y]) => ({ x, y }));
const toBand = (a: number[][]) => a.map(([x, lo, hi]) => ({ x, band: [lo, hi] }));

const corrPanels = [
  {
    key: 'B', frame: [616.3, 18.3, 810.5, 215], xDomain: [-0.27, 8.89], yDomain: [1.673, 3.747],
    xTicks: [0, 2.5, 5, 7.5], xMinor: [1.25, 3.75, 6.25, 8.75], yTicks: [2, 2.5, 3, 3.5], yMinor: [1.75, 2.25, 2.75, 3.25],
    xDigits: 1, points: [...ptsB, ...denseB, ...denseB2], fit: fitB, band: bandB, color: TEAL, alpha: 0.6,
    xTitle: 'CD274 (PD-L1)', stats: ['Spearman', 'r = 0.210', 'P < 0.001'],
  },
  {
    key: 'C', frame: [866.4, 18.3, 1059.6, 215], xDomain: [-0.216, 8.146], yDomain: [1.673, 3.747],
    xTicks: [0, 2, 4, 6, 8], xMinor: [1, 3, 5, 7], yTicks: [2, 2.5, 3, 3.5], yMinor: [1.75, 2.25, 2.75, 3.25],
    xDigits: 0, points: [...ptsC, ...denseC, ...denseC2], fit: fitC, band: bandC, color: TEAL, alpha: 0.6,
    xTitle: 'CTLA4', stats: ['Spearman', 'r = 0.310', 'P < 0.001'],
  },
  {
    key: 'D', frame: [617, 263.3, 809.8, 460], xDomain: [-1.0, 33.0], yDomain: [1.673, 3.747],
    xTicks: [0, 10, 20, 30], xMinor: [5, 15, 25], yTicks: [2, 2.5, 3, 3.5], yMinor: [1.75, 2.25, 2.75, 3.25],
    xDigits: 0, points: [...ptsD, ...denseD, ...denseD2], fit: fitD, band: bandD, color: PURPLE, alpha: 0.55,
    xTitle: 'LAG3', stats: ['Spearman', 'r = 0.160', 'P = 0.003'],
  },
  {
    key: 'E', frame: [867, 264, 1061.3, 460], xDomain: [-0.19, 6.65], yDomain: [1.683, 3.754],
    xTicks: [0, 2, 4, 6], xMinor: [1, 3, 5], yTicks: [2, 2.5, 3, 3.5], yMinor: [1.75, 2.25, 2.75, 3.25],
    xDigits: 0, points: [...ptsE, ...denseE, ...denseE2], fit: fitE, band: bandE, color: PURPLE, alpha: 0.55,
    xTitle: 'BTLA', stats: ['Spearman', 'r = 0.150', 'P = 0.007'],
  },
  {
    key: 'F', frame: [617, 508.3, 810.5, 705], xDomain: [-1.59, 49.6], yDomain: [1.662, 4.061],
    xTicks: [0, 10, 20, 30, 40], xMinor: [5, 15, 25, 35, 45], yTicks: [2, 2.5, 3, 3.5, 4], yMinor: [1.75, 2.25, 2.75, 3.25, 3.75],
    xDigits: 0, points: [...ptsF, ...denseF, ...denseF2], fit: fitF, band: bandF, color: GREEN, alpha: 0.55,
    xTitle: 'HAVCR2', stats: ['Spearman', 'r = 0.400', 'P < 0.001'],
  },
  {
    key: 'G', frame: [867, 508.3, 1060.6, 705.7], xDomain: [-0.377, 11.59], yDomain: [1.675, 3.758],
    xTicks: [0, 3, 6, 9], xMinor: [1.5, 4.5, 7.5, 10.5], yTicks: [2, 2.5, 3, 3.5], yMinor: [1.75, 2.25, 2.75, 3.25],
    xDigits: 0, points: [...ptsG, ...denseG, ...denseG2], fit: fitG, band: bandG, color: GREEN, alpha: 0.55,
    xTitle: 'TIGIT', stats: ['Spearman', 'r = 0.270', 'P < 0.001'],
  },
];

function CorrPanel({ c }: { c: any }) {
  const [x1, y1, x2, y2] = c.frame;
  const yw = 34;
  const mt = 6;
  const mr = 4;
  const xh = 24;
  const w = x2 - x1 + yw + mr;
  const h = y2 - y1 + mt + xh;
  const tickStyle = { fontSize: 10.5, fill: '#4D4D4D', fontFamily: FONT };
  const dot = makeDot(3.1, c.color, c.alpha);
  return (
    <div style={{ position: 'absolute', left: x1 - yw, top: y1 - mt, width: w, height: h }}>
      <ComposedChart width={w} height={h} margin={{ top: mt, right: mr, bottom: 0, left: 0 }}>
        <CartesianGrid verticalValues={c.xMinor} horizontalValues={c.yMinor} stroke="#F1F1F1" strokeWidth={0.8} />
        <CartesianGrid verticalValues={c.xTicks} horizontalValues={c.yTicks} stroke="#E3E3E3" strokeWidth={1.1} />
        <XAxis
          type="number"
          dataKey="x"
          domain={c.xDomain}
          ticks={c.xTicks}
          allowDataOverflow
          interval={0}
          height={xh}
          axisLine={false}
          tickSize={3}
          tickMargin={5.5}
          tickLine={{ stroke: '#333', strokeWidth: 1 }}
          tick={tickStyle}
          tickFormatter={(v: number) => v.toFixed(c.xDigits)}
        />
        <YAxis
          type="number"
          domain={c.yDomain}
          ticks={c.yTicks}
          allowDataOverflow
          interval={0}
          width={yw}
          axisLine={false}
          tickSize={3}
          tickMargin={3}
          tickLine={{ stroke: '#333', strokeWidth: 1 }}
          tick={tickStyle}
          tickFormatter={(v: number) => v.toFixed(1)}
        />
        <Scatter data={toPts(c.points)} dataKey="y" shape={dot} isAnimationActive={false} />
        <Area data={toBand(c.band)} dataKey="band" type="monotone" stroke="none" fill="#8E8E8E" fillOpacity={0.5} isAnimationActive={false} />
        <Line data={toFit(c.fit)} dataKey="y" type="linear" stroke="#0A2536" strokeWidth={1.3} dot={false} activeDot={false} isAnimationActive={false} />
        <ReferenceArea x1={c.xDomain[0]} x2={c.xDomain[1]} y1={c.yDomain[0]} y2={c.yDomain[1]} fill="none" stroke="#1A1A1A" strokeWidth={1.3} />
      </ComposedChart>
    </div>
  );
}

/* ---------------- overlay text ---------------- */
function Overlay() {
  const letters = [
    ['A', 3, 27], ['H', 3, 280], ['I', 12, 578], ['J', 302, 592],
    ['B', 562, 27], ['C', 829, 27], ['D', 565, 272], ['E', 830, 272], ['F', 572, 508], ['G', 831, 510],
  ];
  return (
    <svg width={1065} height={804} style={{ position: 'absolute', left: 0, top: 0, pointerEvents: 'none' }} fontFamily={FONT}>
      <g fontWeight="bold" fontSize={20} fill="#000">
        {letters.map(([t, x, y]) => (
          <text key={t as string} x={x as number} y={y as number}>{t}</text>
        ))}
      </g>
      {/* Panel A */}
      <rect x={66} y={8} width={395} height={228} fill="none" stroke="#000" strokeWidth={1.8} />
      <text transform="translate(19,122) rotate(-90)" textAnchor="middle" dominantBaseline="central" fontSize={14}>PR Risk score</text>
      <rect x={469} y={99} width={18} height={15} fill="#2BE2DE" stroke="#000" strokeWidth={1.5} />
      <rect x={469} y={114} width={18} height={15} fill="#0E6CB3" stroke="#000" strokeWidth={1.5} />
      <text x={495} y={106.5} dominantBaseline="central" fontSize={13.5}>High-Risk</text>
      <text x={495} y={121.5} dominantBaseline="central" fontSize={13.5}>Low-Risk</text>
      {/* Panel H */}
      <text transform="translate(11,402) rotate(-90)" textAnchor="middle" dominantBaseline="central" fontSize={20}>score</text>
      <rect x={476} y={376} width={23} height={17.5} fill={HIGH_RED} stroke="#000" strokeWidth={2} />
      <rect x={476} y={393.5} width={23} height={17.5} fill={LOW_BLUE} stroke="#000" strokeWidth={2} />
      <text x={512} y={385} dominantBaseline="central" fontSize={17}>High</text>
      <text x={512} y={402.5} dominantBaseline="central" fontSize={17}>Low</text>
      {/* Panel I */}
      <text x={175} y={577} textAnchor="middle" dominantBaseline="central" fontSize={14}>IMvigor210</text>
      <text transform="translate(27.5,683) rotate(-90)" textAnchor="middle" dominantBaseline="central" fontSize={13.5}>PR Risk score</text>
      {/* Panel J */}
      <text x={452} y={573} textAnchor="middle" dominantBaseline="central" fontSize={12}>GSE109211 Sorafenib HCC</text>
      <text transform="translate(322,683) rotate(-90)" textAnchor="middle" dominantBaseline="central" fontSize={12}>PR Risk score</text>
      {/* Correlation panels */}
      {corrPanels.map((c) => {
        const [x1, y1, x2, y2] = c.frame;
        return (
          <g key={'t' + c.key}>
            <text x={(x1 + x2) / 2} y={y2 + 27.7} textAnchor="middle" dominantBaseline="central" fontSize={12.5} fill="#111">{c.xTitle}</text>
            <text transform={`translate(${x1 - 31.5},${(y1 + y2) / 2}) rotate(-90)`} textAnchor="middle" dominantBaseline="central" fontSize={12.5} fill="#111">PR Risk score</text>
            {c.stats.map((s, k) => (
              <text key={k} x={x2 - 6} y={y2 - 38.3 + k * 14.5} textAnchor="end" dominantBaseline="central" fontSize={10.5} fill="#1A1A1A">{s}</text>
            ))}
          </g>
        );
      })}
    </svg>
  );
}

export default function App() {
  return (
    <div style={{ position: 'absolute', left: 0, top: 0, width: 1065, height: 804, background: '#fff', overflow: 'hidden', fontFamily: FONT }}>
      <PanelA />
      <PanelH />
      <BoxPanel c={panelI} />
      <BoxPanel c={panelJ} />
      {corrPanels.map((c) => (
        <CorrPanel key={c.key} c={c} />
      ))}
      <Overlay />
    </div>
  );
}
